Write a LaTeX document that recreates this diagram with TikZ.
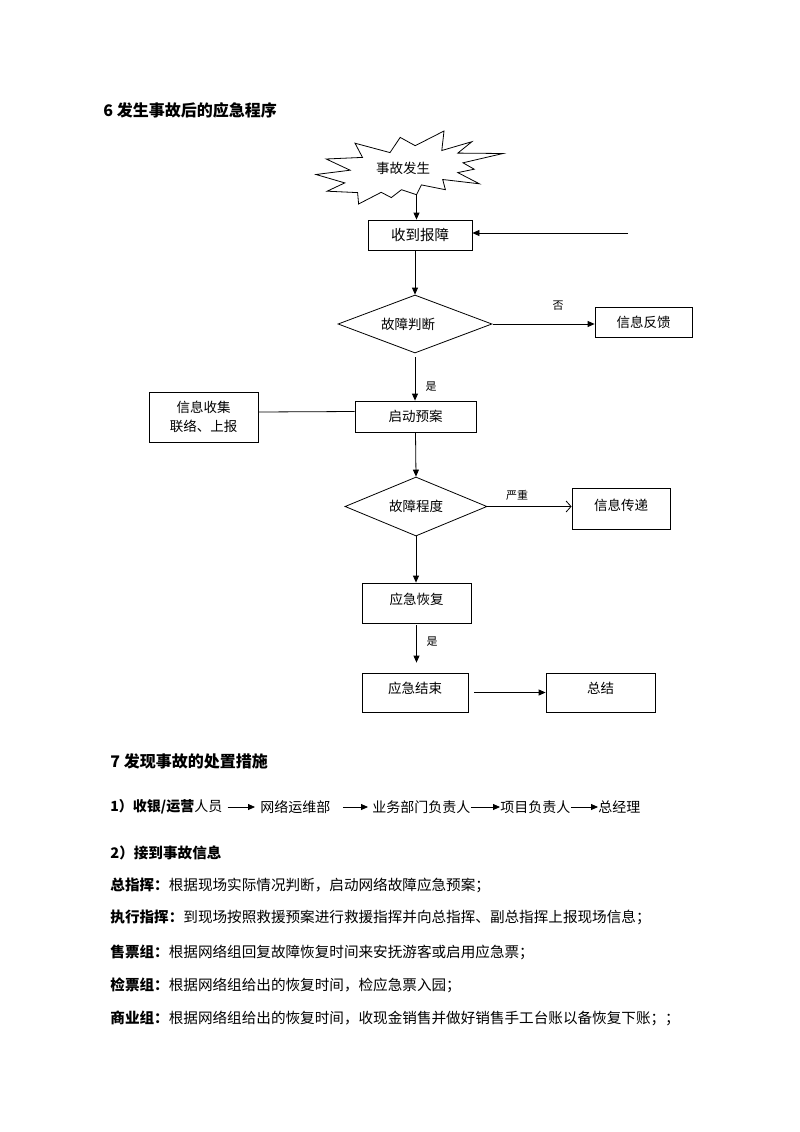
\documentclass[tikz,border=0pt]{standalone}
\usepackage{fontspec}
\setmainfont{Noto Sans CJK SC}
\usetikzlibrary{arrows.meta,shapes.geometric}
\newcommand{\txtup}[2]{\raisebox{#1}[\height][\depth]{#2}}
\begin{document}
\begin{tikzpicture}[x=1pt,y=-1pt,line width=0.8pt,
  box/.style={draw,inner sep=0pt,font=\fontsize{13.5}{16}\selectfont},
  dia/.style={draw,diamond,inner sep=0pt,aspect=2.6,font=\fontsize{13.5}{16}\selectfont},
  lab/.style={inner sep=0pt,font=\fontsize{11}{13}\selectfont},
  arr/.style={-{Triangle[length=7pt,width=6pt]}},
  barb/.style={-{Straight Barb[length=5pt,width=11pt]}},
  head/.style={anchor=west,inner sep=0pt,font=\fontsize{16}{19}\selectfont\bfseries},
  body/.style={anchor=west,inner sep=0pt,font=\fontsize{14.6}{17}\selectfont},
  chain/.style={anchor=west,inner sep=0pt,font=\fontsize{14}{17}\selectfont},
  carr/.style={-{Triangle[length=7pt,width=6pt]}}]
\useasboundingbox[fill=white] (0,0) rectangle (800,1132);

% heading 6
\node[head] (h6) at (103,110) {6 发生事故后的应急程序};

% starburst
\draw (415.2,145.7) -- (444.0,131.0) -- (441.8,150.5) -- (471.9,141.7) -- (457.8,153.1)
  -- (503.0,153.5) -- (463.0,162.8) -- (474.2,169.2) -- (457.8,172.6) -- (479.4,183.8)
  -- (442.7,179.5) -- (445.4,189.7) -- (421.4,184.9) -- (416.5,194.7) -- (401.5,189.7)
  -- (391.3,197.6) -- (381.2,192.3) -- (358.6,204.0) -- (357.6,192.6) -- (327.1,191.2)
  -- (344.8,182.9) -- (316.0,174.5) -- (350.1,170.2) -- (326.2,159.0) -- (362.5,157.4)
  -- (355.0,143.2) -- (390.0,152.6) -- (400.2,137.4) -- cycle;
\coordinate (sbb) at (416.5,194.7);
\node[inner sep=0pt,font=\fontsize{13.5}{16}\selectfont] (burst) at (403,168) {事故发生};

% boxes
\node[box,minimum width=104pt,minimum height=30pt,font=\fontsize{14.5}{17}\selectfont] (sd) at (420,235) {收到报障};
\node[dia,minimum width=154pt,minimum height=58pt] (d1) at (415,324) {\hspace*{-14pt}故障判断};
\node[box,minimum width=97pt,minimum height=30pt] (fb) at (643.5,322) {信息反馈};
\node[box,minimum width=121pt,minimum height=31pt] (qd) at (415.5,416.5) {启动预案};
\node[box,minimum width=109pt,minimum height=50pt,align=center] (sj) at (203.5,417) {信息收集\\[3pt]联络、上报};
\node[dia,minimum width=142pt,minimum height=59pt] (d2) at (416,506.5) {故障程度};
\node[box,minimum width=98pt,minimum height=41pt] (xc) at (621,508.5) {\txtup{3pt}{信息传递}};
\node[box,minimum width=109pt,minimum height=40pt] (hf) at (416.5,603) {\txtup{4pt}{应急恢复}};
\node[box,minimum width=106pt,minimum height=39pt] (js) at (415,692.5) {\txtup{4pt}{应急结束}};
\node[box,minimum width=109pt,minimum height=39pt] (zj) at (600.5,692.5) {\txtup{4pt}{总结}};

% connectors
\draw[arr] (sbb) -- (sbb |- sd.north);
\coordinate (inr) at (628,233);
\draw[arr] (inr) -- (inr -| sd.east);
\draw[arr] (d1.north |- sd.south) -- (d1.north);
\draw[arr,shorten <=1pt] (d1.east) -- (d1.east -| fb.west);
\draw[arr,shorten <=4pt] (d1.south) -- (d1.south |- qd.north);
\draw ([yshift=5pt]sj.east) -- ([yshift=5pt]qd.west);
\draw[arr] (qd.south) -- (d2.north);
\draw[barb] (d2.east) -- (d2.east -| xc.west);
\draw[arr] (d2.south) -- (d2.south |- hf.north);
\draw[arr,shorten <=2pt,shorten >=10pt] (hf.south) -- (hf.south |- js.north);
\draw[arr,shorten <=6pt] (js.east) -- (js.east -| zj.west);

% labels
\node[lab] (lno) at (558,306) {否};
\node[lab] (lyes1) at (431,387) {是};
\node[lab] (lsev) at (517,495) {严重};
\node[lab] (lyes2) at (432,642) {是};

% heading 7
\node[head] (h7) at (110,761) {7 发现事故的处置措施};

% chain line
\node[chain] (c1) at (110,807) {\textbf{1）收银/运营}人员};
\node[chain] (c2) at (260,807) {网络运维部};
\node[chain] (c3) at (372,807) {业务部门负责人};
\node[chain] (c4) at (500,807) {项目负责人};
\node[chain] (c5) at (598,807) {总经理};
\draw[carr,shorten <=5pt,shorten >=5pt] (c1) -- (c2);
\draw[carr,shorten <=12pt,shorten >=4pt] (c2) -- (c3);
\draw[carr] (c3) -- (c4);
\draw[carr] (c4) -- (c5);

% body lines
\node[body] (b0) at (110,853) {\textbf{2）接到事故信息}};
\node[body] (b1) at (110,885) {\textbf{总指挥：}根据现场实际情况判断，启动网络故障应急预案；};
\node[body] (b2) at (110,917) {\textbf{执行指挥：}到现场按照救援预案进行救援指挥并向总指挥、副总指挥上报现场信息；};
\node[body] (b3) at (110,952) {\textbf{售票组：}根据网络组回复故障恢复时间来安抚游客或启用应急票；};
\node[body] (b4) at (110,985) {\textbf{检票组：}根据网络组给出的恢复时间，检应急票入园；};
\node[body] (b5) at (110,1018) {\textbf{商业组：}根据网络组给出的恢复时间，收现金销售并做好销售手工台账以备恢复下账；；};
\end{tikzpicture}
\end{document}
